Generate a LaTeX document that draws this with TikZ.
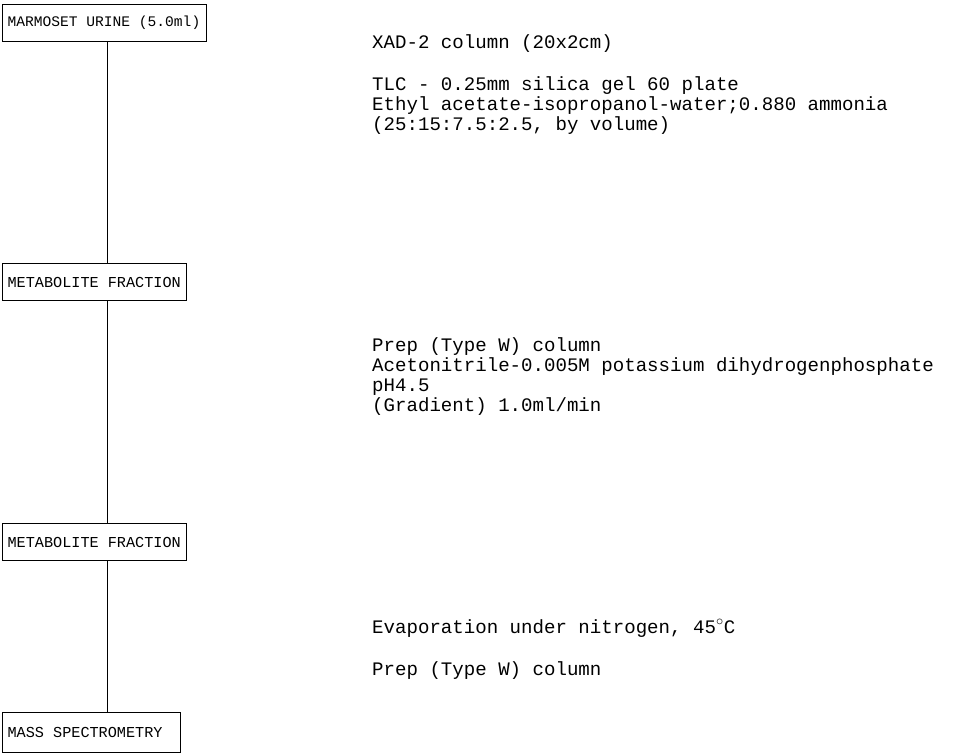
\documentclass[tikz,border=0pt]{standalone}
\usepackage{fontspec}
\usepackage{tikz}
\usetikzlibrary{positioning}
\newfontfamily\mono{Liberation Mono}
\newcommand{\boxline}[2]{\makebox[#1][l]{#2}}

\tikzset{
  stagebox/.style={draw, line width=1.1pt, anchor=north west, inner xsep=5pt,
    minimum height=37pt, font=\mono\fontsize{15.2}{16}\selectfont},
  stepnote/.style={anchor=base west, align=left, inner sep=0pt,
    font=\mono\fontsize{19.1}{20}\selectfont}
}

\begin{document}
\begin{tikzpicture}[x=1pt, y=-1pt]
                        \useasboundingbox (0, 0) rectangle (962, 754);
                        \node[stagebox, font=\mono\fontsize{14.6}{16}\selectfont] (urine) at (2, 4) {\boxline{194pt}{MARMOSET URINE (5.0ml)}};
                        \node[stagebox] (frac1) at (2, 263) {\boxline{174pt}{METABOLITE FRACTION}};
                        \node[stagebox] (frac2) at (2, 523) {\boxline{174pt}{METABOLITE FRACTION}};
                        \node[stagebox, minimum height=40pt] (ms) at (2, 712) {\boxline{168pt}{MASS SPECTROMETRY}};
                        \node[stepnote] (xad) at (372, 131) {XAD-2 column (20x2cm)\\[22pt]
                            TLC - 0.25mm silica gel 60 plate\\
                            Ethyl acetate-isopropanol-water;0.880 ammonia\\
                            (25:15:7.5:2.5, by volume)};
                        \node[stepnote] (prep) at (372, 411) {Prep (Type W) column\\
                            Acetonitrile-0.005M potassium dihydrogenphosphate\\
                            pH4.5\\
                            (Gradient) 1.0ml/min};
                        \node[stepnote] (evap) at (372, 675) {Evaporation under nitrogen, 45$^\circ$C\\[22pt]
                            Prep (Type W) column};
                        \draw[line width=1.1pt]
                        ([xshift=3pt]urine.south) -- ([xshift=3pt]urine.south |- frac1.north)
                        ([xshift=13pt]frac1.south) -- ([xshift=13pt]frac1.south |- frac2.north)
                        ([xshift=13pt]frac2.south) -- ([xshift=13pt]frac2.south |- ms.north);
                    \end{tikzpicture}
\end{document}
